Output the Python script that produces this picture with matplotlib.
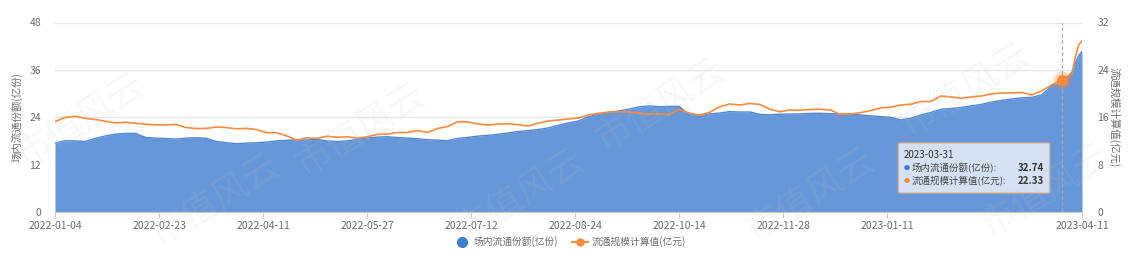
#!/usr/bin/env python3
"""
Recreate the share / scale chart: blue area (left axis) + orange line (right axis).
"""
import matplotlib
matplotlib.use('Agg')
from matplotlib import pyplot as plt
from matplotlib.lines import Line2D
from matplotlib.patches import FancyBboxPatch

# trading-day number since 2022-01-04 (sampled every 3 days, daily at the end)
day_idx = list(range(0, 304, 3)) + [304, 305, 306]

# 场内流通份额(亿份), left axis
share_vals = [
    17.47, 18.13, 18.05, 17.92, 18.68, 19.32, 19.75, 19.95, 19.95, 18.94,
    18.76, 18.66, 18.51, 18.76, 18.86, 18.73, 17.92, 17.62, 17.34, 17.49,
    17.59, 17.75, 18.05, 18.20, 18.30, 18.30, 18.46, 18.05, 17.90, 18.05,
    18.46, 18.81, 19.01, 19.11, 18.91, 18.76, 18.61, 18.35, 18.25, 18.10,
    18.68, 18.94, 19.27, 19.47, 19.72, 20.08, 20.43, 20.66, 20.94, 21.34,
    22.00, 22.60, 23.10, 24.20, 24.76, 25.22, 25.65, 26.08, 26.66, 26.91,
    26.71, 26.78, 26.78, 24.63, 24.63, 24.89, 25.09, 25.47, 25.34, 25.39,
    24.76, 24.68, 24.81, 24.84, 24.89, 25.01, 25.04, 24.94, 24.89, 24.81,
    24.63, 24.38, 24.20, 24.03, 23.37, 23.80, 24.63, 25.27, 26.08, 26.23,
    26.53, 26.91, 27.29, 27.87, 28.30, 28.63, 28.94, 29.06, 29.70, 31.97,
    32.74, 35.40, 37.80, 39.60, 40.66,
]

# 流通规模计算值(亿元), right axis
scale_vals = [
    15.28, 15.99, 16.19, 15.85, 15.65, 15.35, 15.06, 15.18, 15.01, 14.84,
    14.76, 14.72, 14.81, 14.30, 14.13, 14.13, 14.38, 14.30, 14.08, 14.15,
    13.96, 13.42, 13.42, 12.90, 12.16, 12.56, 12.45, 12.82, 12.66, 12.73,
    12.53, 12.73, 13.12, 13.20, 13.44, 13.46, 13.76, 13.46, 14.13, 14.47,
    15.28, 15.23, 14.89, 14.72, 14.86, 14.94, 14.76, 14.55, 15.03, 15.40,
    15.56, 15.73, 15.90, 16.41, 16.69, 16.91, 16.96, 16.91, 16.69, 16.49,
    16.61, 16.48, 17.34, 16.75, 16.37, 16.83, 17.76, 18.26, 18.09, 18.35,
    18.18, 17.37, 16.96, 17.25, 17.20, 17.34, 17.39, 17.25, 16.49, 16.58,
    16.80, 17.15, 17.59, 17.72, 18.09, 18.21, 18.68, 18.68, 19.61, 19.44,
    19.24, 19.44, 19.61, 19.95, 20.12, 20.12, 20.20, 19.78, 20.46, 21.47,
    22.33, 23.30, 26.10, 28.20, 28.90,
]

tick_days = [0, 31, 62, 93, 124, 155, 186, 217, 248, 306]
tick_labels = ['2022-01-04', '2022-02-23', '2022-04-11', '2022-05-27', '2022-07-12',
               '2022-08-24', '2022-10-14', '2022-11-28', '2023-01-11', '2023-04-11']

tip_day = 300
tip_label = '2023-03-31'

share_name = '场内流通份额(亿份)'
scale_name = '流通规模计算值(亿元)'

BLUE = '#3d7dd6'
ORANGE = '#fd8a3b'
GREY = '#6e6e6e'

plt.rcParams['font.family'] = ['Noto Sans CJK SC', 'DejaVu Sans']

W, H = 1129, 257
fig = plt.figure(figsize=(W / 100, H / 100), dpi=100)
ax = fig.add_axes([55 / W, 1 - 212.3 / H, 1027 / W, 189.8 / H])

ax.fill_between(day_idx, 0, share_vals, color='#6697d8', lw=0, zorder=2)
ax.plot(day_idx, share_vals, color='#5089d6', lw=1, zorder=3)
ax.set_xlim(0, 306)
ax.set_ylim(0, 48)
ax.set_yticks([0, 12, 24, 36, 48])
ax.yaxis.grid(True, color='#e6e6e6', lw=1)
ax.set_axisbelow(True)
for s in ['top', 'right', 'left']:
    ax.spines[s].set_visible(False)
ax.spines['bottom'].set_color('#cccccc')
ax.set_xticks(tick_days)
ax.set_xticklabels(tick_labels)
ax.tick_params(axis='x', length=4, color='#cccccc', labelsize=7.5, labelcolor=GREY, pad=2)
ax.tick_params(axis='y', length=0, labelsize=7.5, labelcolor=GREY, pad=10)
ax.set_ylabel(share_name, fontsize=7.5, color=GREY, labelpad=5)

# hover guide line
ax.axvline(tip_day, color='#aaaaaa', lw=0.9, ls=(0, (3, 2)), zorder=4)

ax2 = ax.twinx()
ax2.plot(day_idx, scale_vals, color=ORANGE, lw=1.2, zorder=3)
ax2.set_ylim(0, 32)
ax2.set_yticks([0, 8, 16, 24, 32])
for s in ax2.spines.values():
    s.set_visible(False)
ax2.tick_params(axis='y', length=0, labelsize=7.5, labelcolor=GREY, pad=11)
ax2.set_ylabel(scale_name, fontsize=7.5, color=GREY, rotation=270, labelpad=8)

ti = day_idx.index(tip_day)
ax2.plot(tip_day, scale_vals[ti], 'o', ms=13, color=ORANGE, alpha=0.3, mec='none', zorder=5)
ax2.plot(tip_day, scale_vals[ti], 'o', ms=8, color=ORANGE, mec='none', zorder=6)

# tooltip box
box = FancyBboxPatch((898 / W, 1 - 193.3 / H), 152 / W, 50.6 / H,
                     boxstyle='round,pad=0,rounding_size=0.003',
                     transform=fig.transFigure, facecolor='#d8e4f5', edgecolor='#c49e8a',
                     lw=1, alpha=0.97, zorder=10)
fig.patches.append(box)
fig.text(904 / W, 1 - 155 / H, tip_label, fontsize=7, color='#333333', va='center', zorder=11)
rows = [(BLUE, share_name, share_vals[ti], 167.7), (ORANGE, scale_name, scale_vals[ti], 180.7)]
for col, name, val, yy in rows:
    fig.text(904 / W, 1 - yy / H, '●', fontsize=4.5, color=col, va='center', zorder=11)
    fig.text(912 / W, 1 - yy / H, name + ':', fontsize=6.8, color='#444444', va='center', zorder=11)
    fig.text(1044 / W, 1 - yy / H, '{:.2f}'.format(val), fontsize=7, color='#333333',
             fontweight='bold', ha='right', va='center', zorder=11)

# legend
handles = [Line2D([], [], color=BLUE, marker='o', ms=7, ls='none'),
           Line2D([], [], color=ORANGE, marker='o', ms=5, lw=1.5)]
fig.legend(handles, [share_name, scale_name], loc='center', bbox_to_anchor=(0.505, 1 - 242 / H),
           ncol=2, frameon=False, fontsize=7, labelcolor=GREY, handlelength=1.6,
           handletextpad=0.4, columnspacing=1.4)

# watermark
marks = [(80, 120), (360, 130), (660, 105), (965, 90), (215, 200), (520, 195),
         (810, 195), (1045, 190)]
for mx, my in marks:
    fig.text(mx / W, 1 - my / H, '市值风云', fontsize=26, color='#c8c8c8', alpha=0.12,
             rotation=32, ha='center', va='center', zorder=12)

fig.savefig('out.png', dpi=100)
plt.close(fig)
